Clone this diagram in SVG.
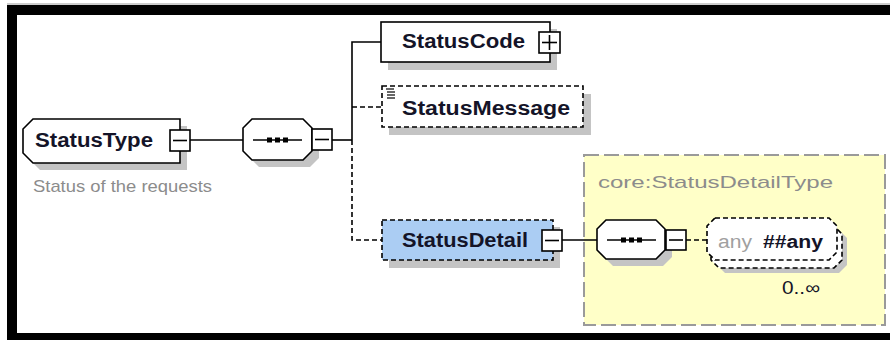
<svg xmlns="http://www.w3.org/2000/svg" width="890" height="340" viewBox="0 0 890 340">
<style>
.lbl{font-family:"Liberation Sans",Arial,sans-serif;font-weight:bold;font-size:20px;fill:#141428}
.note{font-family:"Liberation Sans",Arial,sans-serif;font-size:17px;fill:#8c8c8c}
.shadow{fill:#c4c4c4;stroke:none}
.solid{fill:#fff;stroke:#000;stroke-width:1.6}
.dash{stroke:#000;stroke-width:1.6;stroke-dasharray:5,3}
.box{fill:#fff;stroke:#000;stroke-width:1.6}
.conn{fill:none;stroke:#000;stroke-width:1.6}
.conn-d{fill:none;stroke:#000;stroke-width:1.6;stroke-dasharray:5,3}
</style>
<defs>
<g id="seqicon">
<line x1="0" y1="0" x2="49" y2="0" stroke="#000" stroke-width="1.6"/>
<rect x="14" y="-2.5" width="5" height="5" fill="#000"/>
<rect x="22" y="-2.5" width="5" height="5" fill="#000"/>
<rect x="30" y="-2.5" width="5" height="5" fill="#000"/>
</g>
</defs>
<rect x="0" y="0" width="890" height="340" fill="#fff"/>
<rect x="12" y="10" width="890" height="328" fill="none" stroke="#000" stroke-width="10"/>
<line x1="7" y1="4" x2="890" y2="4" stroke="#999" stroke-width="1"/>

<g id="StatusDetailType-box">
<rect x="584" y="155" width="301" height="170" fill="#ffffc8" stroke="#9a9a9a" stroke-width="2" stroke-dasharray="15,5"/>
<text class="note" x="598" y="188" font-size="18" textLength="235" lengthAdjust="spacingAndGlyphs" fill="#9a9a9a">core:StatusDetailType</text>
</g>

<g id="connectors">
<line class="conn" x1="190" y1="140" x2="243" y2="140"/>
<line class="conn" x1="332" y1="140" x2="352" y2="140"/>
<polyline class="conn" points="352,140 352,42 381,42"/>
<line class="conn-d" x1="352" y1="107" x2="381" y2="107"/>
<polyline class="conn-d" points="352,140 352,240 382,240"/>
<line class="conn" x1="562" y1="240" x2="597" y2="240"/>
<line class="conn-d" x1="686" y1="240" x2="707" y2="240"/>
</g>

<g id="StatusType">
<path class="shadow" d="M40,126 H187 V170 H40 L30,160 V136 Z"/>
<path class="solid" d="M33,119 H180 V163 H33 L23,153 V129 Z"/>
<text class="lbl" x="35" y="147" textLength="118" lengthAdjust="spacingAndGlyphs">StatusType</text>
<rect class="box" x="170" y="130" width="20" height="21"/>
<line x1="173" y1="140.5" x2="187" y2="140.5" stroke="#000" stroke-width="1.6"/>
<text class="note" x="33" y="192" textLength="179" lengthAdjust="spacingAndGlyphs">Status of the requests</text>
</g>

<g id="sequence1">
<path class="shadow" d="M259,126 H310 L319,135 V158 L310,167 H259 L250,158 V135 Z"/>
<path class="solid" d="M252,119 H303 L312,128 V151 L303,160 H252 L243,151 V128 Z"/>
<use href="#seqicon" x="253" y="140"/>
<rect class="box" x="312" y="129" width="20" height="21"/>
<line x1="315" y1="139.5" x2="329" y2="139.5" stroke="#000" stroke-width="1.6"/>
</g>

<g id="StatusCode">
<rect class="shadow" x="388" y="29" width="169" height="41"/>
<rect class="solid" x="381" y="22" width="169" height="40"/>
<text class="lbl" x="402" y="48" textLength="123" lengthAdjust="spacingAndGlyphs">StatusCode</text>
<rect class="box" x="539" y="32" width="21" height="21"/>
<line x1="542" y1="42.5" x2="557" y2="42.5" stroke="#000" stroke-width="1.6"/>
<line x1="549.5" y1="35" x2="549.5" y2="50" stroke="#000" stroke-width="1.6"/>
</g>

<g id="StatusMessage">
<rect class="shadow" x="389" y="94" width="202" height="41"/>
<rect x="382" y="86" width="201" height="41" fill="#fff" class="dash"/>
<g stroke="#000" stroke-width="1.2">
<line x1="386" y1="89" x2="394" y2="89"/>
<line x1="387" y1="92" x2="395" y2="92"/>
<line x1="387" y1="95" x2="395" y2="95"/>
<line x1="387" y1="98" x2="395" y2="98"/>
</g>
<text class="lbl" x="402" y="115" textLength="168" lengthAdjust="spacingAndGlyphs">StatusMessage</text>
</g>

<g id="StatusDetail">
<rect class="shadow" x="389" y="227" width="171" height="41"/>
<rect x="382" y="220" width="171" height="40" fill="#abcdf3" class="dash"/>
<text class="lbl" x="402" y="247" textLength="126" lengthAdjust="spacingAndGlyphs">StatusDetail</text>
<rect class="box" x="542" y="230" width="20" height="21"/>
<line x1="545" y1="240.5" x2="559" y2="240.5" stroke="#000" stroke-width="1.6"/>
</g>

<g id="sequence2">
<path class="shadow" d="M613,227 H663 L672,236 V257 L663,266 H613 L604,257 V236 Z"/>
<path class="solid" d="M606,220 H656 L665,229 V250 L656,259 H606 L597,250 V229 Z"/>
<use href="#seqicon" x="607" y="240"/>
<rect class="box" x="666" y="230" width="20" height="20"/>
<line x1="669" y1="240" x2="683" y2="240" stroke="#000" stroke-width="1.6"/>
</g>

<g id="any">
<path class="shadow" d="M725,230 H839 L847,238 V265 L839,273 H725 L717,265 V238 Z"/>
<path d="M719,226 H834 L842,234 V260 L834,268 H719 L711,260 V234 Z" fill="#fff" class="dash"/>
<path d="M715,218 H829 L837,226 V252 L829,260 H715 L707,252 V226 Z" fill="#fff" class="dash"/>
<text x="718" y="248" font-family="Liberation Sans,Arial,sans-serif" font-size="18" fill="#a0a0a0" textLength="34" lengthAdjust="spacingAndGlyphs">any</text>
<text x="763" y="248" font-family="Liberation Sans,Arial,sans-serif" font-size="18" font-weight="bold" fill="#141428" textLength="60" lengthAdjust="spacingAndGlyphs">##any</text>
<text x="782" y="294" font-family="Liberation Sans,Arial,sans-serif" font-size="18" fill="#141428" textLength="38" lengthAdjust="spacingAndGlyphs">0..∞</text>
</g>
</svg>
